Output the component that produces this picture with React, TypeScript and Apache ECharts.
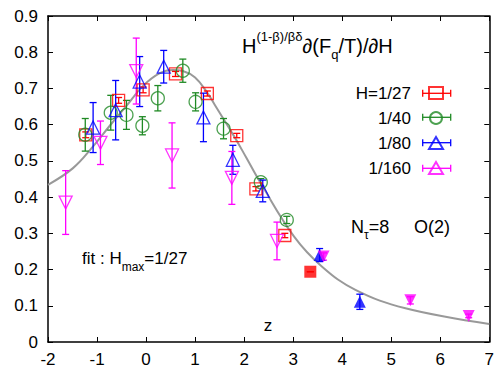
import React, { useEffect, useRef } from "react";
import * as echarts from "echarts";

const FONT = "Liberation Sans";

// H = 1/27 (open squares) and filled square
const h27X = [-1.23, -0.56, -0.06, 0.6, 1.25, 1.85, 2.24, 2.83];
const h27Y = [0.572, 0.667, 0.696, 0.74, 0.686, 0.57, 0.423, 0.294];
const h27E = [0.008, 0.008, 0.008, 0.007, 0.007, 0.006, 0.006, 0.006];
const h27FX = [3.35];
const h27FY = [0.194];
const h27FE = [0.0];

// H = 1/40 (open circles)
const h40X = [-1.24, -0.72, -0.4, -0.075, 0.24, 0.75, 1.01, 1.58, 2.34, 2.87];
const h40Y = [0.572, 0.633, 0.627, 0.597, 0.673, 0.749, 0.663, 0.589, 0.441, 0.337];
const h40E = [0.045, 0.048, 0.04, 0.025, 0.035, 0.032, 0.025, 0.028, 0.01, 0.01];

// H = 1/80 (open up-triangles) and filled
const h80X = [-1.08, -0.62, -0.13, 0.36, 1.17, 1.77, 2.38];
const h80Y = [0.592, 0.64, 0.719, 0.76, 0.62, 0.503, 0.417];
const h80E = [0.069, 0.082, 0.069, 0.045, 0.067, 0.04, 0.03];
const h80FX = [3.54, 4.36];
const h80FY = [0.24, 0.111];
const h80FE = [0.018, 0.021];

// H = 1/160 (open down-triangles) and filled
const h160X = [-1.64, -0.93, -0.2, 0.53, 1.75, 2.67];
const h160Y = [0.385, 0.55, 0.748, 0.515, 0.453, 0.279];
const h160E = [0.088, 0.06, 0.091, 0.09, 0.073, 0.052];
const h160FX = [3.62, 5.39, 6.58];
const h160FY = [0.236, 0.115, 0.072];
const h160FE = [0.01, 0.01, 0.005];

// fit curve
const fitX = [-2, -1.49, -1.08, -0.74, -0.4, -0.06, 0.28, 0.55, 0.75, 1.0, 1.24, 1.4, 1.8, 2.04, 2.34, 3.02, 3.59, 4.27, 5.29, 7.0];
const fitY = [0.434, 0.48, 0.54, 0.597, 0.652, 0.707, 0.742, 0.751, 0.748, 0.73, 0.69, 0.655, 0.567, 0.51, 0.438, 0.291, 0.208, 0.144, 0.093, 0.05];

const RED = "#ff0000";
const GREEN = "#1f8a24";
const BLUE = "#0000ff";
const MAGENTA = "#ff00ff";

const legendNames = ["H=1/27", "1/40", "1/80", "1/160"];

function errSeries(name: string, xs: number[], ys: number[], es: number[], color: string) {
  return {
    type: "custom",
    name,
    coordinateSystem: "cartesian2d",
    silent: true,
    z: 2,
    encode: { x: 0, y: [1, 2] },
    data: xs.map((x, i) => [x, ys[i] - es[i], ys[i] + es[i]]),
    renderItem: (params: any, api: any) => {
      const x = api.value(0);
      const a = api.coord([x, api.value(1)]);
      const b = api.coord([x, api.value(2)]);
      const c = 3.5;
      const st = { stroke: color, lineWidth: 1.3 };
      return {
        type: "group",
        children: [
          { type: "line", shape: { x1: a[0], y1: a[1], x2: b[0], y2: b[1] }, style: st },
          { type: "line", shape: { x1: a[0] - c, y1: a[1], x2: a[0] + c, y2: a[1] }, style: st },
          { type: "line", shape: { x1: b[0] - c, y1: b[1], x2: b[0] + c, y2: b[1] }, style: st },
        ],
      };
    },
  };
}

function pts(xs: number[], ys: number[]) {
  return xs.map((x, i) => [x, ys[i]]);
}

function openSeries(name: string, xs: number[], ys: number[], color: string, symbol: string, size: number, rot = 0) {
  return {
    type: "scatter",
    name,
    data: pts(xs, ys),
    symbol,
    symbolSize: size,
    symbolRotate: rot,
    z: 3,
    itemStyle: { color: "rgba(0,0,0,0)", borderColor: color, borderWidth: 1.3 },
  };
}

function filledSeries(name: string, xs: number[], ys: number[], color: string, symbol: string, size: number, rot = 0) {
  return {
    type: "scatter",
    name,
    data: pts(xs, ys),
    symbol,
    symbolSize: size,
    symbolRotate: rot,
    z: 3,
    itemStyle: { color, borderWidth: 0 },
  };
}

export default function App() {
  const ref = useRef<HTMLDivElement>(null);
  useEffect(() => {
    const chart = echarts.init(ref.current!, null, { renderer: "svg" });
    const axisLine = { onZero: false, lineStyle: { color: "#000", width: 1.5 } };
    const axisTick = { inside: true, length: 5, lineStyle: { color: "#000", width: 1 } };
    const label = { color: "#000", fontSize: 17, fontFamily: FONT };
    const legendY = [93.3, 117.3, 142.7, 168.3];
    const option: any = {
      animation: false,
      backgroundColor: "#fff",
      grid: { left: 48, right: 6, top: 16, bottom: 28, containLabel: false },
      xAxis: [
        { type: "value", min: -2, max: 7, interval: 1, position: "bottom", axisLine, axisTick, axisLabel: { ...label, margin: 9 }, splitLine: { show: false } },
        { type: "value", min: -2, max: 7, interval: 1, position: "top", axisLine, axisTick, axisLabel: { show: false }, splitLine: { show: false } },
      ],
      yAxis: [
        { type: "value", min: 0, max: 0.9, interval: 0.1, position: "left", axisLine, axisTick, axisLabel: { ...label, margin: 10 }, splitLine: { show: false } },
        { type: "value", min: 0, max: 0.9, interval: 0.1, position: "right", axisLine, axisTick, axisLabel: { show: false }, splitLine: { show: false } },
      ],
      legend: {
        data: legendNames,
        orient: "vertical",
        align: "right",
        right: 48,
        top: 78,
        itemWidth: 14,
        itemHeight: 12,
        itemGap: 5,
        textStyle: { color: "#000", fontSize: 17, fontFamily: FONT, lineHeight: 20, padding: [0, 13, 0, 0] },
        selectedMode: false,
      },
      series: [
        {
          type: "line",
          name: "fit",
          data: pts(fitX, fitY),
          smooth: 0.4,
          showSymbol: false,
          silent: true,
          z: 1,
          lineStyle: { color: "#999", width: 2 },
        },
        errSeries("e27", h27X, h27Y, h27E, RED),
        errSeries("e27f", h27FX, h27FY, h27FE, RED),
        errSeries("e40", h40X, h40Y, h40E, GREEN),
        errSeries("e80", h80X, h80Y, h80E, BLUE),
        errSeries("e80f", h80FX, h80FY, h80FE, BLUE),
        errSeries("e160", h160X, h160Y, h160E, MAGENTA),
        errSeries("e160f", h160FX, h160FY, h160FE, MAGENTA),
        openSeries("H=1/27", h27X, h27Y, RED, "rect", 12),
        filledSeries("f27", h27FX, h27FY, RED, "rect", 12),
        openSeries("1/40", h40X, h40Y, GREEN, "circle", 13),
        openSeries("1/80", h80X, h80Y, BLUE, "triangle", 13),
        filledSeries("f80", h80FX, h80FY, BLUE, "triangle", 12),
        openSeries("1/160", h160X, h160Y, MAGENTA, "triangle", 13, 180),
        filledSeries("f160", h160FX, h160FY, MAGENTA, "triangle", 12, 180),
      ],
      graphic: [
        ...legendY.flatMap((y, i) => {
          const col = [RED, GREEN, BLUE, MAGENTA][i];
          const st = { stroke: col, lineWidth: 1.3 };
          return [
            { type: "line", z: 100, shape: { x1: 422.7, y1: y, x2: 450.7, y2: y }, style: st },
            { type: "line", z: 100, shape: { x1: 422.7, y1: y - 3.5, x2: 422.7, y2: y + 3.5 }, style: st },
            { type: "line", z: 100, shape: { x1: 450.7, y1: y - 3.5, x2: 450.7, y2: y + 3.5 }, style: st },
          ];
        }),
        {
          type: "text",
          x: 242,
          y: 30.2,
          z: 100,
          style: {
            text: "{m|H}{s|(1-β)/βδ}{m|∂(F}{b|q}{m|/T)/∂H}",
            rich: {
              m: { fontSize: 20, fontFamily: FONT, fill: "#000", lineHeight: 31, verticalAlign: "middle" },
              s: { fontSize: 13, fontFamily: FONT, fill: "#000", verticalAlign: "top" },
              b: { fontSize: 13, fontFamily: FONT, fill: "#000", verticalAlign: "bottom" },
            },
          },
        },
        {
          type: "text",
          x: 82,
          y: 245.2,
          z: 100,
          style: {
            text: "{m|fit : H}{b|max}{m|=1/27}",
            rich: {
              m: { fontSize: 17, fontFamily: FONT, fill: "#000", lineHeight: 27.6, verticalAlign: "middle" },
              b: { fontSize: 12, fontFamily: FONT, fill: "#000", verticalAlign: "bottom" },
            },
          },
        },
        {
          type: "text",
          x: 351,
          y: 213.5,
          z: 100,
          style: {
            text: "{m|N}{b|τ}{m|=8}",
            rich: {
              m: { fontSize: 18, fontFamily: FONT, fill: "#000", lineHeight: 27.6, verticalAlign: "middle" },
              b: { fontSize: 12, fontFamily: FONT, fill: "#000", verticalAlign: "bottom" },
            },
          },
        },
        {
          type: "text",
          x: 414,
          y: 227.3,
          z: 100,
          style: { text: "O(2)", fontSize: 18, fontFamily: FONT, fill: "#000", verticalAlign: "middle" },
        },
        {
          type: "text",
          x: 268,
          y: 325,
          z: 100,
          style: { text: "z", fontSize: 17, fontFamily: FONT, fill: "#000", align: "center", verticalAlign: "middle" },
        },
      ],
    };
    chart.setOption(option);
    return () => chart.dispose();
  }, []);
  return (
    <div
      ref={ref}
      style={{ position: "fixed", left: 0, top: 0, width: 497, height: 370, background: "#fff" }}
    />
  );
}
